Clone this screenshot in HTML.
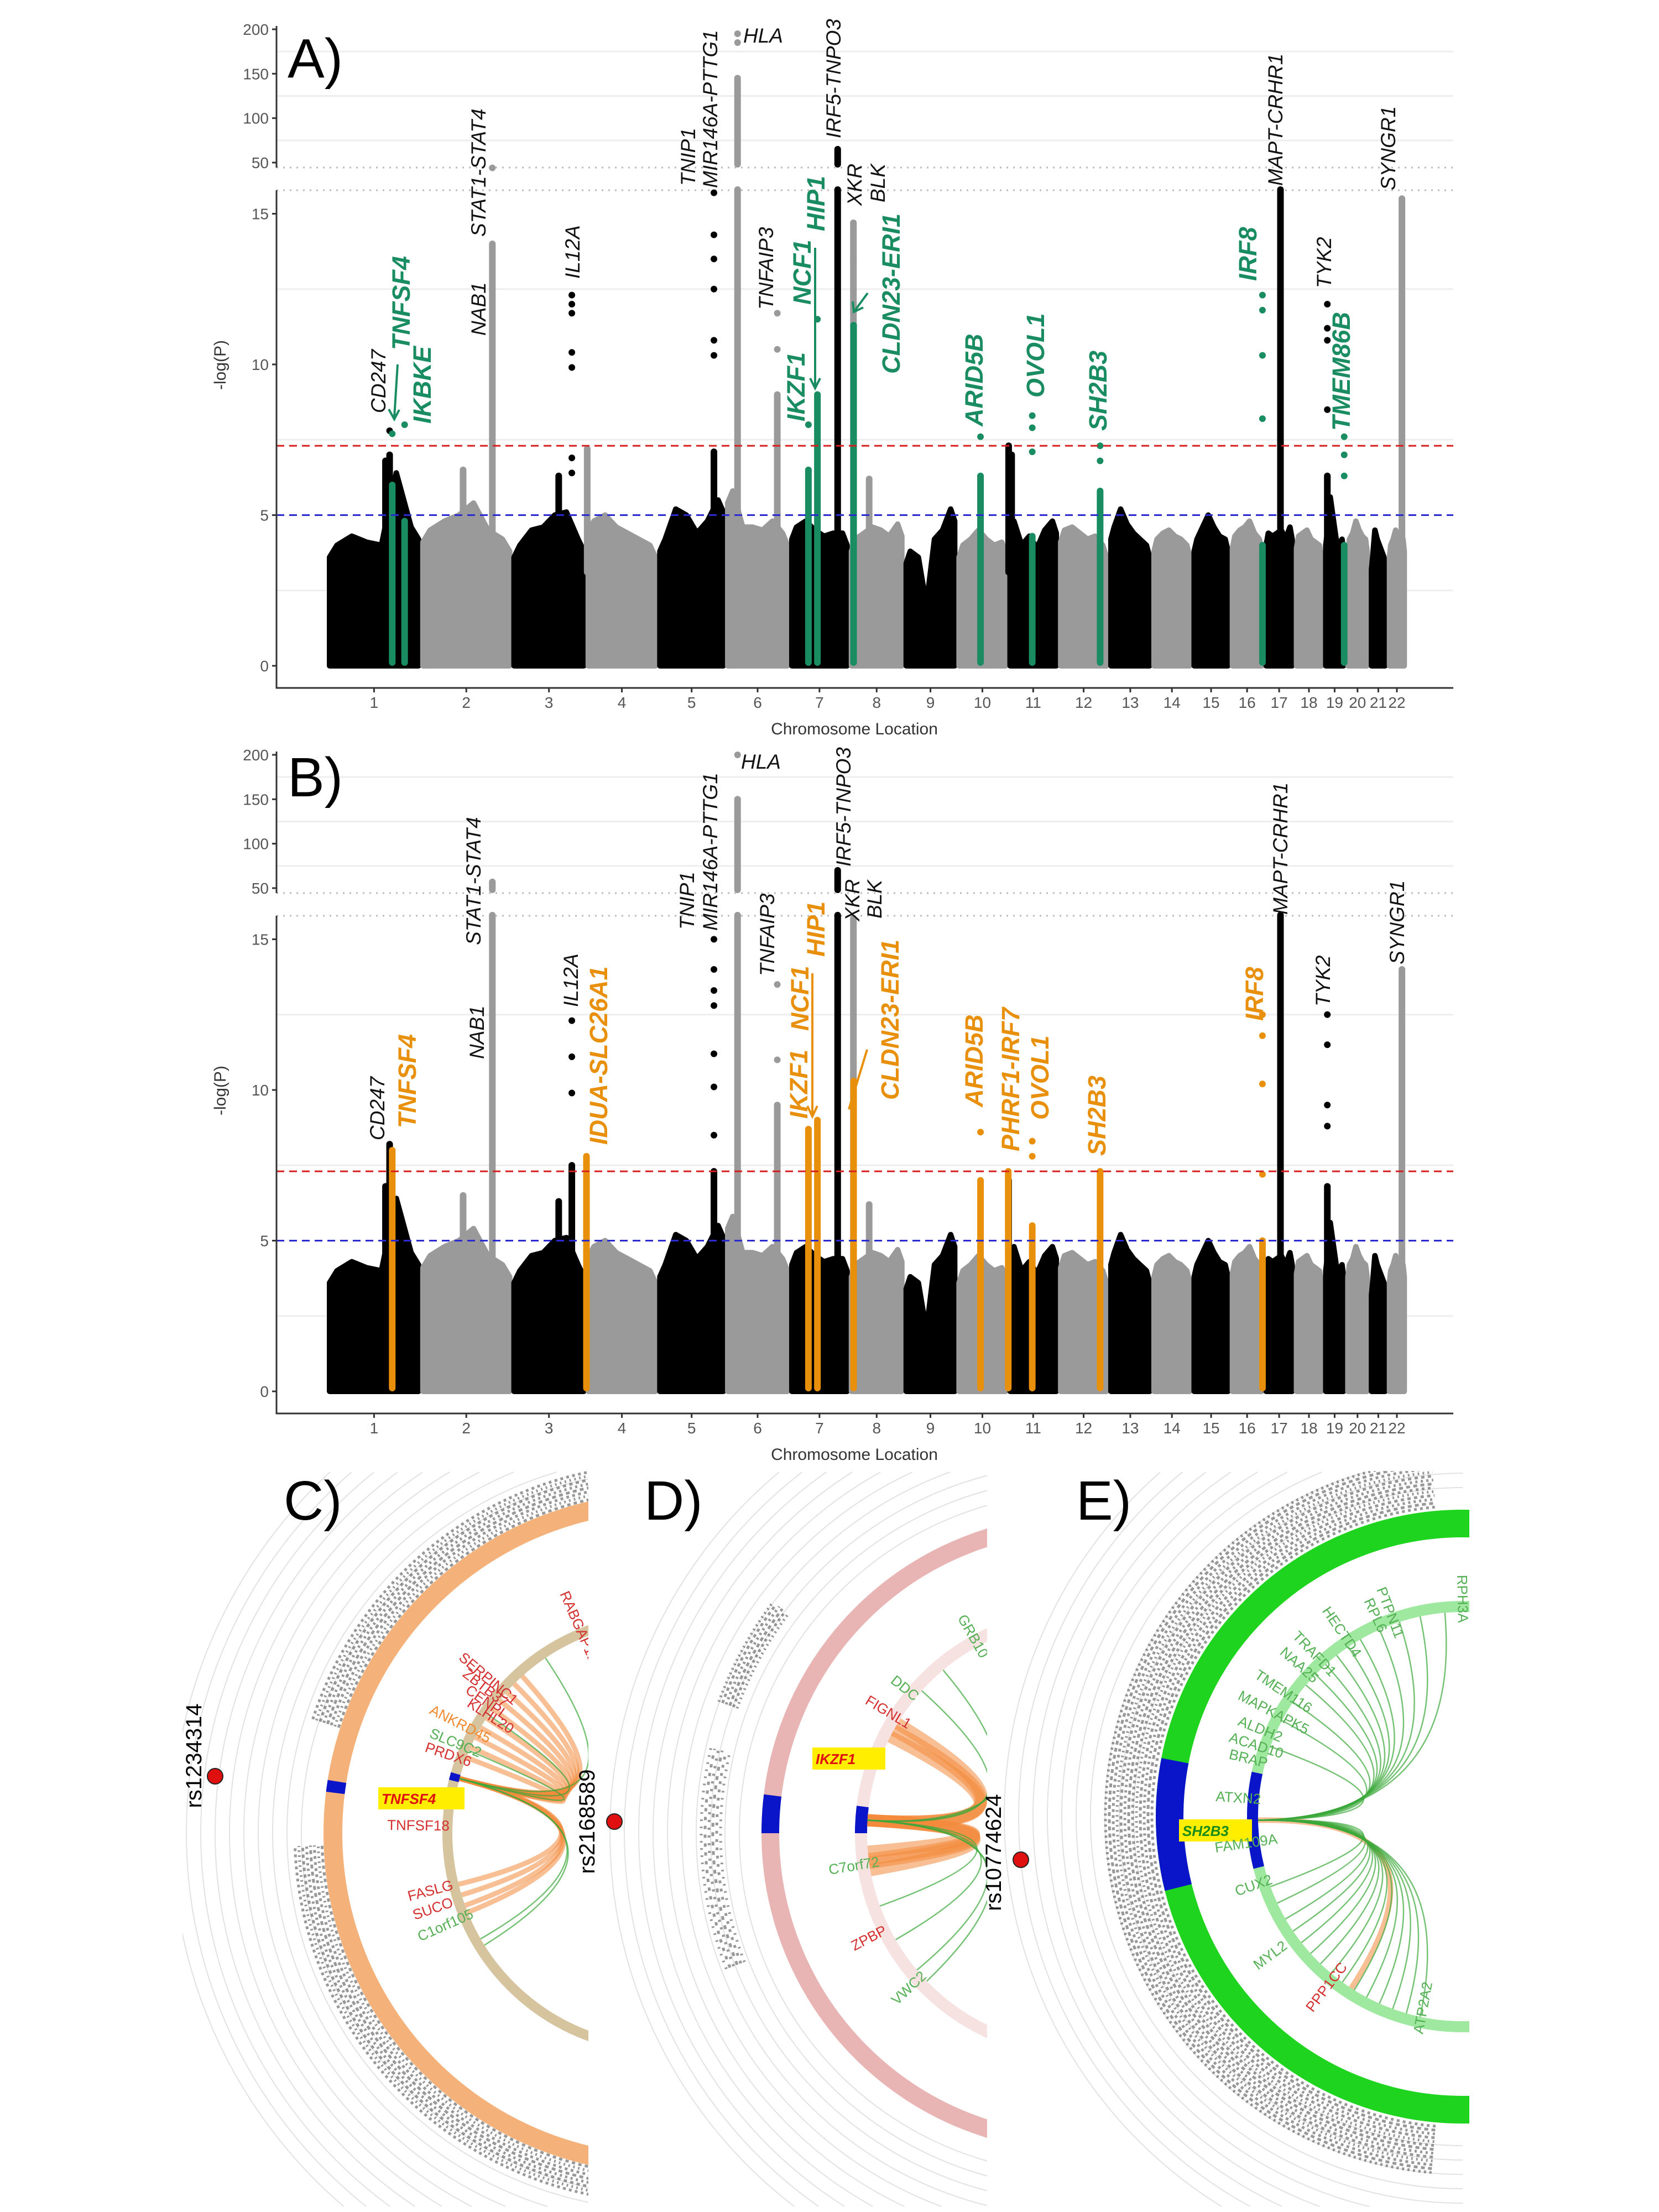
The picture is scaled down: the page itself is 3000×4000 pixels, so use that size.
<!DOCTYPE html>
<html><head><meta charset="utf-8">
<style>
html,body{margin:0;padding:0;background:#fff;width:3000px;height:4000px;overflow:hidden;}
svg{display:block;}
text{font-family:"Liberation Sans",sans-serif;}
.tick{font-size:28px;fill:#555;}
.gk{font-size:37px;font-style:italic;fill:#111;}
.gg{font-size:45px;font-style:italic;font-weight:bold;fill:#1a8c62;}
.go{font-size:45px;font-style:italic;font-weight:bold;fill:#e8900c;}
.plab{font-size:100px;fill:#000;}
.cl{font-size:26px;}
</style></head>
<body>
<svg id="fig" width="3000" height="4000" viewBox="0 0 3000 4000" overflow="hidden" xmlns="http://www.w3.org/2000/svg">
<defs>
<clipPath id="clipC"><rect x="330" y="2660" width="734" height="1335"/></clipPath>
<clipPath id="clipD"><rect x="1064" y="2660" width="721" height="1335"/></clipPath>
<clipPath id="clipE"><rect x="1785" y="2660" width="872" height="1335"/></clipPath>
</defs>
<g id="manA"></g>
<g id="manB"></g>
<g id="circ"></g>

<text class="plab" x="520" y="140">A)</text>
<text class="plab" x="520" y="1440">B)</text>
<text class="plab" x="513" y="2748">C)</text>
<text class="plab" x="1165" y="2748">D)</text>
<text class="plab" x="1946" y="2748">E)</text>

<g>
<text class="gk" transform="translate(697,747) rotate(-90)">CD247</text>
<text class="gg" transform="translate(741,633) rotate(-90)">TNFSF4</text>
<text class="gg" transform="translate(779,766) rotate(-90)">IKBKE</text>
<text class="gk" transform="translate(878,607) rotate(-90)">NAB1</text>
<text class="gk" transform="translate(878,428) rotate(-90)">STAT1-STAT4</text>
<text class="gk" transform="translate(1048,504) rotate(-90)">IL12A</text>
<text class="gk" transform="translate(1257,336) rotate(-90)">TNIP1</text>
<text class="gk" transform="translate(1297,340) rotate(-90)">MIR146A-PTTG1</text>
<text class="gk" x="1344" y="77">HLA</text>
<text class="gk" transform="translate(1398,560) rotate(-90)">TNFAIP3</text>
<text class="gg" transform="translate(1455,762) rotate(-90)">IKZF1</text>
<text class="gg" transform="translate(1466,551) rotate(-90)">NCF1</text>
<text class="gg" transform="translate(1491,418) rotate(-90)">HIP1</text>
<text class="gk" transform="translate(1520,250) rotate(-90)">IRF5-TNPO3</text>
<text class="gk" transform="translate(1558,372) rotate(-90)">XKR</text>
<text class="gk" transform="translate(1600,366) rotate(-90)">BLK</text>
<text class="gg" transform="translate(1627,676) rotate(-90)">CLDN23-ERI1</text>
<text class="gg" transform="translate(1777,771) rotate(-90)">ARID5B</text>
<text class="gg" transform="translate(1888,719) rotate(-90)">OVOL1</text>
<text class="gg" transform="translate(2001,779) rotate(-90)">SH2B3</text>
<text class="gg" transform="translate(2272,508) rotate(-90)">IRF8</text>
<text class="gk" transform="translate(2319,336) rotate(-90)">MAPT-CRHR1</text>
<text class="gk" transform="translate(2407,521) rotate(-90)">TYK2</text>
<text class="gg" transform="translate(2441,779) rotate(-90)">TMEM86B</text>
<text class="gk" transform="translate(2523,344) rotate(-90)">SYNGR1</text>
<path d="M719,659 L713,755 M703,740 L713,758 L722,741" stroke="#1a8c62" stroke-width="4" fill="none"/>
<path d="M1474,448 L1474,700 M1465,684 L1474,702 L1483,684" stroke="#1a8c62" stroke-width="4" fill="none"/>
<path d="M1569,530 L1544,564 M1542,545 L1544,564 L1561,556" stroke="#1a8c62" stroke-width="4" fill="none"/>
</g>

<g>
<text class="gk" transform="translate(695,2062) rotate(-90)">CD247</text>
<text class="go" transform="translate(752,2040) rotate(-90)">TNFSF4</text>
<text class="gk" transform="translate(875,1915) rotate(-90)">NAB1</text>
<text class="gk" transform="translate(869,1709) rotate(-90)">STAT1-STAT4</text>
<text class="gk" transform="translate(1045,1821) rotate(-90)">IL12A</text>
<text class="go" transform="translate(1098,2070) rotate(-90)">IDUA-SLC26A1</text>
<text class="gk" transform="translate(1255,1681) rotate(-90)">TNIP1</text>
<text class="gk" transform="translate(1297,1683) rotate(-90)">MIR146A-PTTG1</text>
<text class="gk" x="1340" y="1390">HLA</text>
<text class="gk" transform="translate(1400,1765) rotate(-90)">TNFAIP3</text>
<text class="go" transform="translate(1460,2023) rotate(-90)">IKZF1</text>
<text class="go" transform="translate(1462,1864) rotate(-90)">NCF1</text>
<text class="go" transform="translate(1491,1730) rotate(-90)">HIP1</text>
<text class="gk" transform="translate(1538,1567) rotate(-90)">IRF5-TNPO3</text>
<text class="gk" transform="translate(1554,1666) rotate(-90)">XKR</text>
<text class="gk" transform="translate(1594,1661) rotate(-90)">BLK</text>
<text class="go" transform="translate(1625,1989) rotate(-90)">CLDN23-ERI1</text>
<text class="go" transform="translate(1777,2002) rotate(-90)">ARID5B</text>
<text class="go" transform="translate(1843,2082) rotate(-90)">PHRF1-IRF7</text>
<text class="go" transform="translate(1896,2025) rotate(-90)">OVOL1</text>
<text class="go" transform="translate(1999,2090) rotate(-90)">SH2B3</text>
<text class="go" transform="translate(2284,1846) rotate(-90)">IRF8</text>
<text class="gk" transform="translate(2328,1654) rotate(-90)">MAPT-CRHR1</text>
<text class="gk" transform="translate(2405,1820) rotate(-90)">TYK2</text>
<text class="gk" transform="translate(2539,1744) rotate(-90)">SYNGR1</text>
<path d="M1469,1760 L1469,2017 M1460,2000 L1469,2019 L1478,2000" stroke="#e8900c" stroke-width="4" fill="none"/>
<path d="M1568,1898 L1535,2006" stroke="#e8900c" stroke-width="4" fill="none"/>
</g>
</svg>
<script>
const chrLen=[249,243,198,191,181,171,159,146,141,136,135,134,115,107,102,90,81,78,59,63,48,51];
const chrLabels=['1','2','3','4','5','6','7','8','9','10','11','12','13','14','15','16','17','18','19','20','21','22'];
const bulkTop=[[4.0,4.3,4.1,4.0,6.4,4.6],[4.5,4.8,5.0,5.4,4.5,4.2],[4.0,4.5,4.6,5.0,5.1,4.2],[4.8,5.0,4.6,4.4,4.2,4.0],
[4.2,5.2,5.0,4.4,4.8,5.5],[5.8,4.6,4.6,4.5,4.8,4.4],[4.6,4.8,4.5,4.3,4.4,4.4],[4.2,4.4,4.6,4.5,4.3,4.7],
[3.8,3.6,2.0,4.2,4.5,5.2],[4.0,4.2,4.5,4.2,4.0,4.1],[4.8,4.0,4.3,3.9,4.5,4.8],[4.5,4.6,4.4,4.2,4.3,4.0],
[4.6,5.2,4.7,4.4,4.2,4.0],[4.2,4.4,4.5,4.3,4.2,4.0],[4.2,4.6,5.0,4.6,4.3,4.2],[4.3,4.5,4.6,4.8,4.4,4.2],
[4.4,4.3,4.4,4.5,4.2,4.6],[4.3,4.4,4.5,4.2,4.1,4.0],[4.4,5.6,4.9,4.2,4.0,4.2],[4.2,4.4,4.8,4.5,4.3,4.2],
[3.6,4.5,4.2,4.0,3.8,3.6],[4.0,4.2,4.5,4.3,4.0,4.2]];
const lowerTicks=[0,5,10,15];
const upperTicks=[50,100,150,200];
const thresholds=[7.3,5];
const colsA=[[1,155,6.8,'c'],[1,166,7.0,'c'],[2,113,6.5,'c'],[2,191,14,'c'],[3,125,6.3,'c'],[4,3,7.2,'c'],[5,150,7.1,'c'],
[6,32,145,'c'],[6,138,9,'c'],[7,128,65,'c'],[8,11,14.7,'c'],[8,53,6.2,'c'],[11,2,7.3,'c'],[11,10,7.0,'c'],[17,44,16,'c'],
[19,10,6.3,'c'],[22,39,15.5,'c'],
[1,173,6,'h'],[1,206,4.8,'h'],[7,50,6.5,'h'],[7,74,9,'h'],[8,11.5,11.3,'h'],[10,63,6.3,'h'],[11,65,4.3,'h'],[12,111,5.8,'h'],[16,86,4,'h'],[19,55,4,'h']];
const dotsA=[[5,150,16,'c'],[5,150,14.3,'c'],[5,150,13.5,'c'],[5,150,12.5,'c'],[5,150,10.8,'c'],[5,150,10.3,'c'],
[3,160,12.3,'c'],[3,160,12,'c'],[3,160,11.7,'c'],[3,160,10.4,'c'],[3,160,9.9,'c'],[3,160,6.9,'c'],[3,160,6.4,'c'],
[6,32,185,'c'],[6,32,195,'c'],[2,191,44,'c'],[19,10,12,'c'],[19,10,11.2,'c'],[19,10,10.8,'c'],[19,10,8.5,'c'],
[6,138,11.7,'c'],[6,138,10.5,'c'],[8,11,13.5,'c'],[8,11,12,'c'],[1,166,7.8,'c'],[22,39,13,'c'],
[1,173,7.7,'h'],[1,206,8.0,'h'],[7,50,8,'h'],[7,74,11.5,'h'],[10,63,7.6,'h'],[11,65,8.3,'h'],[11,65,7.9,'h'],[11,65,7.1,'h'],
[12,111,7.3,'h'],[12,111,6.8,'h'],[16,86,12.3,'h'],[16,86,11.8,'h'],[16,86,10.3,'h'],[16,86,8.2,'h'],[19,55,7.6,'h'],[19,55,7.0,'h'],[19,55,6.3,'h']];
const colsB=[[1,155,6.8,'c'],[1,166,8.2,'c'],[2,113,6.5,'c'],[2,191,57,'c'],[3,125,6.3,'c'],[3,160,7.5,'c'],[5,150,7.3,'c'],
[6,32,150,'c'],[6,138,9.5,'c'],[7,128,70,'c'],[8,11,15.7,'c'],[8,53,6.2,'c'],[11,2,7.0,'c'],[17,44,16,'c'],
[19,10,6.8,'c'],[22,39,14,'c'],
[1,173,8,'h'],[4,1,7.8,'h'],[7,50,8.7,'h'],[7,74,9,'h'],[8,11.5,10.3,'h'],[10,63,7.0,'h'],[11,1,7.3,'h'],[11,65,5.5,'h'],[12,111,7.3,'h'],[16,86,5,'h']];
const dotsB=[[5,150,15,'c'],[5,150,14,'c'],[5,150,13.3,'c'],[5,150,12.8,'c'],[5,150,11.2,'c'],[5,150,10.1,'c'],[5,150,8.5,'c'],
[3,160,12.3,'c'],[3,160,11.1,'c'],[3,160,9.9,'c'],[6,32,200,'c'],[19,10,12.5,'c'],[19,10,11.5,'c'],[19,10,9.5,'c'],[19,10,8.8,'c'],
[6,138,13.5,'c'],[6,138,11,'c'],
[10,63,8.6,'h'],[11,65,8.3,'h'],[11,65,7.8,'h'],[16,86,12.5,'h'],[16,86,11.8,'h'],[16,86,10.2,'h'],[16,86,7.2,'h']];

const chordC_orange=[201,204,207,210,213,216,219,222,225,228,158,160,163,166];
const chordC_green=[236,214,150,148,203];
const chordD_orange=[207,209,211,175,173,172,170];
const chordD_green=[245,230,222,160,150,140,136];
const chordE_green=[265,258,252,246,240,236,232,228,224,220,214,208,200,150,146,142,138,134,130,126,122,118,114,110,106,102,160,155];
const chordE_orange=[123];

const NS='http://www.w3.org/2000/svg';
function mk(tag,parent){const e=document.createElementNS(NS,tag);parent.appendChild(e);return e;}
const cum=[0];for(let i=0;i<chrLen.length;i++)cum.push(cum[i]+chrLen[i]);
const X0=592,PX=0.678;
function xpos(c,p){return X0+(cum[c-1]+p)*PX;}
function yv(v,off){return v<=15.8? off+1204-v*54.5 : off+294-(v-50)*1.607;}
function chrCol(c){return c%2===1?'#000':'#9a9a9a';}

function manhattan(gid,off,cols,dots,hcol){
  const g=document.getElementById(gid);
  [2.5,7.5,12.5,75,125,175].forEach(v=>{const l=mk('line',g);l.setAttribute('x1',500);l.setAttribute('x2',2628);l.setAttribute('y1',yv(v,off));l.setAttribute('y2',yv(v,off));l.setAttribute('stroke','#eeeeee');l.setAttribute('stroke-width',3);
    
    });
  [303,344].forEach(y=>{const l=mk('line',g);l.setAttribute('x1',500);l.setAttribute('x2',2628);l.setAttribute('y1',y+off);l.setAttribute('y2',y+off);l.setAttribute('stroke','#bbb');l.setAttribute('stroke-width',3);l.setAttribute('stroke-dasharray','3 9');
    
    });
  for(let c=1;c<=22;c++){
    const xs=xpos(c,0)+4,xe=xpos(c,chrLen[c-1])-4,w=xe-xs,s=bulkTop[c-1];
    let pts=[[xs,yv(0,off)],[xs,yv(s[0]-0.4,off)]];
    s.forEach((v,i)=>pts.push([xs+(i+0.5)/s.length*w,yv(v,off)]));
    pts.push([xe,yv(s[s.length-1]-0.4,off)]);pts.push([xe,yv(0,off)]);
    const p=mk('polygon',g);p.setAttribute('points',pts.map(q=>q.join(',')).join(' '));
    p.setAttribute('fill',chrCol(c));p.setAttribute('stroke',chrCol(c));p.setAttribute('stroke-width',10);p.setAttribute('stroke-linejoin','round');
    
    
  }
  cols.forEach(d=>{
    const [c,pos,top,k]=d;const x=xpos(c,pos);const col=k==='h'?hcol:chrCol(c);const base=k==='h'?0:3;
    const lowTop=Math.min(top,15.8);
    const r=mk('rect',g);r.setAttribute('x',x-6);r.setAttribute('width',12);r.setAttribute('y',yv(lowTop,off)-6);r.setAttribute('height',yv(base,off)-yv(lowTop,off)+6);r.setAttribute('rx',6);r.setAttribute('fill',col);
    
    
    if(top>40){const u=mk('rect',g);const yt=yv(top,off);u.setAttribute('x',x-6);u.setAttribute('width',12);u.setAttribute('y',yt-6);u.setAttribute('height',off+303-yt+6);u.setAttribute('rx',6);u.setAttribute('fill',col);
      
      }
  });
  dots.forEach(d=>{const [c,pos,v,k]=d;const e=mk('circle',g);e.setAttribute('cx',xpos(c,pos));e.setAttribute('cy',yv(v,off));e.setAttribute('r',6);e.setAttribute('fill',k==='h'?hcol:chrCol(c));
    
    });
  thresholds.forEach((v,i)=>{const l=mk('line',g);l.setAttribute('x1',500);l.setAttribute('x2',2628);l.setAttribute('y1',yv(v,off));l.setAttribute('y2',yv(v,off));l.setAttribute('stroke',i===0?'#d62020':'#2a2ad0');l.setAttribute('stroke-width',3);l.setAttribute('stroke-dasharray','14 9');
    
    });
  const ax=mk('path',g);ax.setAttribute('d',`M500,${47+off} L500,${303+off} M500,${344+off} L500,${1244+off} L2628,${1244+off}`);ax.setAttribute('stroke','#333');ax.setAttribute('stroke-width',3);ax.setAttribute('fill','none');
  
  
  lowerTicks.concat(upperTicks).forEach(v=>{const y=yv(v,off);
    const t=mk('line',g);t.setAttribute('x1',492);t.setAttribute('x2',500);t.setAttribute('y1',y);t.setAttribute('y2',y);t.setAttribute('stroke','#333');t.setAttribute('stroke-width',3);
    
    
    const tx=mk('text',g);tx.setAttribute('x',486);tx.setAttribute('y',y+10);tx.setAttribute('text-anchor','end');tx.setAttribute('class','tick');tx.textContent=v;
    
    });
  for(let c=1;c<=22;c++){const x=xpos(c,chrLen[c-1]/2);
    const t=mk('line',g);t.setAttribute('x1',x);t.setAttribute('x2',x);t.setAttribute('y1',1244+off);t.setAttribute('y2',1252+off);t.setAttribute('stroke','#333');t.setAttribute('stroke-width',3);
    
    
    const tx=mk('text',g);tx.setAttribute('x',x);tx.setAttribute('y',1280+off);tx.setAttribute('text-anchor','middle');tx.setAttribute('class','tick');tx.textContent=chrLabels[c-1];
    
    }
  const xt=mk('text',g);xt.setAttribute('x',1545);xt.setAttribute('y',1328+off);xt.setAttribute('text-anchor','middle');xt.setAttribute('font-size','30');xt.setAttribute('fill','#333');xt.textContent='Chromosome Location';
  
  
  const yt=mk('text',g);yt.setAttribute('transform',`translate(408,${660+off}) rotate(-90)`);yt.setAttribute('text-anchor','middle');yt.setAttribute('font-size','30');yt.setAttribute('fill','#333');yt.textContent='-log(P)';
  
  
}
manhattan('manA',0,colsA,dotsA,'#1a8c62');
manhattan('manB',1312,colsB,dotsB,'#e8900c');

const circ=document.getElementById('circ');
function pol(cx,cy,r,a){const t=a*Math.PI/180;return [cx+r*Math.cos(t),cy+r*Math.sin(t)];}
function arc(cx,cy,r,a0,a1){const p0=pol(cx,cy,r,a0),p1=pol(cx,cy,r,a1);const large=Math.abs(a1-a0)>180?1:0;return `M${p0[0]},${p0[1]} A${r},${r} 0 ${large} 1 ${p1[0]},${p1[1]}`;}
function boundedArc(cx,cy,r){
  const sb=Math.min(1,(3990-cy)/r), st=Math.min(1,(cy-2662)/r);
  const aLow=180-Math.asin(sb)*180/Math.PI, aHigh=180+Math.asin(st)*180/Math.PI;
  return arc(cx,cy,r,aLow,aHigh);
}
function panel(clip,cx,cy,cfg){
  const g=mk('g',circ);g.setAttribute('clip-path','url(#'+clip+')');
  
  
  for(let r=cfg.outerR+40;r<cfg.outerR+300;r+=26){const c=mk('path',g);c.setAttribute('d',boundedArc(cx,cy,r));c.setAttribute('fill','none');c.setAttribute('stroke','#e2e2e2');c.setAttribute('stroke-width',2);
    
    }
  cfg.scatter.forEach(s=>{const [r0,r1,a0,a1]=s;for(let r=r0;r<=r1;r+=7){const p=mk('path',g);p.setAttribute('d',arc(cx,cy,r,a0,a1));p.setAttribute('fill','none');p.setAttribute('stroke','#444');p.setAttribute('stroke-width',5);p.setAttribute('opacity',0.55);p.setAttribute('stroke-dasharray',`${3+(r%5)} ${4+(r%7)}`);
    
    }});
  const o=mk('circle',g);o.setAttribute('cx',cx);o.setAttribute('cy',cy);o.setAttribute('r',cfg.outerR-cfg.outerW/2);o.setAttribute('fill','none');o.setAttribute('stroke',cfg.outerCol);o.setAttribute('stroke-width',cfg.outerW);
  
  
  const i=mk('circle',g);i.setAttribute('cx',cx);i.setAttribute('cy',cy);i.setAttribute('r',cfg.innerR-cfg.innerW/2);i.setAttribute('fill','none');i.setAttribute('stroke',cfg.innerCol);i.setAttribute('stroke-width',cfg.innerW);
  
  
  const ob=mk('path',g);ob.setAttribute('d',arc(cx,cy,cfg.outerR-cfg.outerW/2,cfg.oBlue[0],cfg.oBlue[1]));ob.setAttribute('stroke','#0a14c8');ob.setAttribute('stroke-width',cfg.outerW);ob.setAttribute('fill','none');
  
  
  const ib=mk('path',g);ib.setAttribute('d',arc(cx,cy,cfg.innerR-cfg.innerW/2,cfg.iBlue[0],cfg.iBlue[1]));ib.setAttribute('stroke','#0a14c8');ib.setAttribute('stroke-width',cfg.innerW);ib.setAttribute('fill','none');
  
  
  const src=(cfg.iBlue[0]+cfg.iBlue[1])/2,rr=cfg.innerR-cfg.innerW;
  function chord(a,col,w,op){const p0=pol(cx,cy,rr,src),p1=pol(cx,cy,rr,a);const p=mk('path',g);p.setAttribute('d',`M${p0[0]},${p0[1]} Q${cx},${cy} ${p1[0]},${p1[1]}`);p.setAttribute('fill','none');p.setAttribute('stroke',col);p.setAttribute('stroke-width',w);p.setAttribute('opacity',op);
    
    }
  cfg.orange.forEach(a=>chord(a,'#f28a3c',cfg.ow,0.55));
  cfg.green.forEach(a=>chord(a,'#3aa83a',2.5,0.7));
  cfg.labels.forEach(l=>{const [name,x,y,col,hl]=l;const ang=hl?0:Math.atan2(y-cy,x-cx)*180/Math.PI-180;
    if(hl){const b=mk('rect',g);b.setAttribute('x',-6);b.setAttribute('y',-30);b.setAttribute('width',name.length*24+12);b.setAttribute('height',40);b.setAttribute('fill','#ffee00');b.setAttribute('transform',`translate(${x},${y}) rotate(${ang})`);
      
      }
    const t=mk('text',g);t.setAttribute('transform',`translate(${x},${y}) rotate(${ang})`);t.setAttribute('class','cl');t.setAttribute('fill',col);t.textContent=name;
    if(hl){t.setAttribute('font-size','36');t.setAttribute('font-weight','bold');t.setAttribute('font-style','italic');}
    
    });
}
panel('clipC',1200,3315,{outerR:615,outerW:34,outerCol:'#f4b27a',innerR:400,innerW:18,innerCol:'#d6c49e',oBlue:[187,189],iBlue:[194,196],
 scatter:[[618,670,95,178],[618,670,198,265]],orange:chordC_orange,green:chordC_green,ow:9,
 labels:[['RABGAP1L',1012,2882,'#d43030'],['SERPINC1',828,3000,'#d43030'],['ZBTB37',835,3030,'#d43030'],['CENPL',840,3060,'#d43030'],['KLHL20',843,3085,'#d43030'],['ANKRD45',775,3098,'#f08a30'],['SLC9C2',775,3141,'#55b055'],['PRDX6',767,3167,'#d43030'],['TNFSF4',690,3262,'#e01010',1],['TNFSF18',700,3309,'#d43030'],['FASLG',740,3438,'#d43030'],['SUCO',750,3472,'#d43030'],['C1orf105',760,3511,'#55b055']]});
panel('clipD',1953,3315,{outerR:576,outerW:32,outerCol:'#e8b4b4',innerR:407,innerW:22,innerCol:'#f7e2e2',oBlue:[180,187],iBlue:[180,187],
 scatter:[[660,700,200,217],[650,690,159,193]],orange:chordD_orange,green:chordD_green,ow:22,
 labels:[['GRB10',1731,2926,'#55b055'],['DDC',1609,3042,'#55b055'],['FIGNL1',1563,3080,'#d43030'],['IKZF1',1475,3190,'#e01010',1],['C7orf72',1500,3390,'#55b055'],['ZPBP',1545,3528,'#d43030'],['VWC2',1622,3627,'#55b055']]});
panel('clipE',2645,3285,{outerR:555,outerW:50,outerCol:'#1fd41f',innerR:390,innerW:20,innerCol:'#9fe89f',oBlue:[166,191],iBlue:[166,192],
 scatter:[[562,650,95,265]],orange:chordE_orange,green:chordE_green,ow:10,
 labels:[['RPH3A',2635,2848,'#55b055'],['PTPN11',2489,2874,'#55b055'],['RPL6',2466,2895,'#55b055'],['HECTD4',2390,2913,'#55b055'],['TRAFD1',2336,2960,'#55b055'],['NAA25',2313,2990,'#55b055'],['TMEM116',2267,3033,'#55b055'],['MAPKAPK5',2237,3072,'#55b055'],['ALDH2',2237,3119,'#55b055'],['ACAD10',2221,3149,'#55b055'],['BRAP',2221,3180,'#55b055'],['ATXN2',2198,3257,'#55b055'],['SH2B3',2138,3320,'#1a8c1a',1],['FAM109A',2198,3350,'#55b055'],['CUX2',2237,3429,'#55b055'],['MYL2',2275,3563,'#55b055'],['PPP1CC',2374,3640,'#d43030'],['ATP2A2',2573,3679,'#55b055']]});

[['rs1234314',364,3175,389,3212],['rs2168589',1075,3294,1111,3294],['rs10774624',1810,3350,1846,3363]].forEach(d=>{
  const t=mk('text',circ);t.setAttribute('transform',`translate(${d[1]},${d[2]}) rotate(-90)`);t.setAttribute('text-anchor','middle');t.setAttribute('font-size','40');t.textContent=d[0];
  
  
  const c=mk('circle',circ);c.setAttribute('cx',d[3]);c.setAttribute('cy',d[4]);c.setAttribute('r',14);c.setAttribute('fill','#e01010');c.setAttribute('stroke','#222');c.setAttribute('stroke-width',2);
  
  
});
</script>
</body></html>
